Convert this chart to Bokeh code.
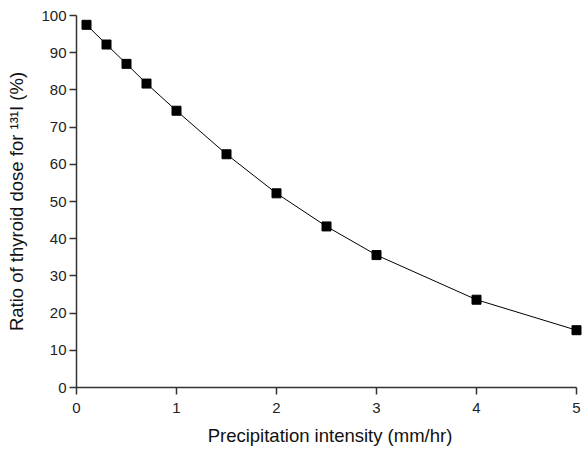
from bokeh.plotting import figure
from bokeh.embed import file_html
from bokeh.resources import INLINE
from bokeh.models import Range1d, FixedTicker

intensity = [0.1, 0.3, 0.5, 0.7, 1.0, 1.5, 2.0, 2.5, 3.0, 4.0, 5.0]
ratio = [97.5, 92.2, 87.0, 81.7, 74.4, 62.7, 52.2, 43.3, 35.6, 23.6, 15.4]
x_ticks = [0, 1, 2, 3, 4, 5]
y_ticks = [0, 10, 20, 30, 40, 50, 60, 70, 80, 90, 100]

p = figure(width=586, height=449, output_backend="svg", toolbar_location=None,
           x_range=Range1d(0, 5.07), y_range=Range1d(0, 100),
           min_border_left=76, min_border_right=3, min_border_top=15, min_border_bottom=62)
p.outline_line_color = None
p.xgrid.visible = False
p.ygrid.visible = False

p.line(intensity, ratio, line_color="black", line_width=1)
p.scatter(intensity, ratio, marker="square", size=9, fill_color="black", line_color="black")

for ax in (p.xaxis[0], p.yaxis[0]):
    ax.axis_line_color = "#333333"
    ax.axis_line_width = 1.5
    ax.major_tick_line_color = "#333333"
    ax.major_tick_line_width = 1.5
    ax.major_tick_out = 7
    ax.major_tick_in = 0
    ax.minor_tick_line_color = None
    ax.major_label_text_font = "Liberation Sans"
    ax.major_label_text_font_size = "15px"
    ax.major_label_text_color = "#222222"
    ax.axis_label_text_font = "Liberation Sans"
    ax.axis_label_text_font_size = "18.5px"
    ax.axis_label_text_font_style = "normal"
    ax.axis_label_text_color = "#111111"

p.xaxis.bounds = (0, 5)
p.yaxis.bounds = (0, 100)
p.xaxis.ticker = FixedTicker(ticks=x_ticks)
p.yaxis.ticker = FixedTicker(ticks=y_ticks)
p.xaxis.axis_label = "Precipitation intensity (mm/hr)"
p.yaxis.axis_label = "Ratio of thyroid dose for \u00b9\u00b3\u00b9I (%)"
p.xaxis.major_label_standoff = 8
p.yaxis.major_label_standoff = 3
p.xaxis.axis_label_standoff = 9
p.yaxis.axis_label_standoff = 11

open("out.html", "w").write(file_html(p, INLINE))
